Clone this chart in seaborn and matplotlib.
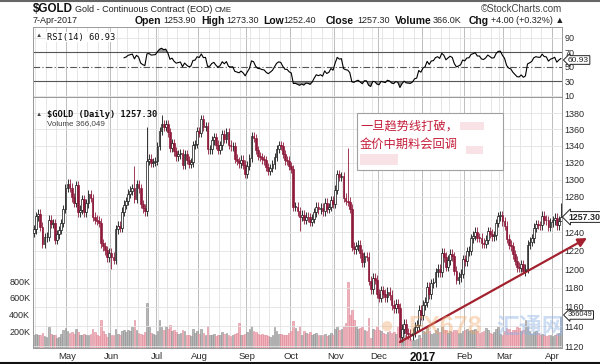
import matplotlib
matplotlib.use('Agg')
import matplotlib.pyplot as plt
import matplotlib.ticker as mticker
from matplotlib.patches import Rectangle
import seaborn as sns
import pandas as pd
import numpy as np

sns.set_theme(style='white')
plt.rcParams['font.family'] = ['Liberation Sans', 'Noto Sans CJK SC', 'DejaVu Sans']

# trading days shown (one year of daily bars)
start = '2016-04-08'
end = '2017-04-07'
holidays = ['2016-05-30', '2016-07-04', '2016-09-05', '2016-11-24',
            '2016-12-26', '2017-01-02', '2017-01-16', '2017-02-20']

# daily closes, one row per week
closes = [
    1243.4,
    1258.3, 1261.2, 1246.3, 1227.4, 1234.8,
    1235.4, 1254.2, 1249.6, 1250.1, 1231.7,
    1237.9, 1242.7, 1250.5, 1266.3, 1290.5,
    1295.4, 1290.8, 1279.8, 1273.4, 1294.0,
    1262.6, 1265.6, 1277.8, 1262.8, 1272.6,
    1283.0, 1278.8, 1257.8, 1254.2, 1252.9,
    1250.8, 1228.0, 1224.5, 1220.1, 1212.7,
    1217.3, 1213.4, 1210.0, 1243.7,
    1247.3, 1245.2, 1263.2, 1271.4, 1275.4,
    1283.9, 1287.3, 1290.2, 1278.0, 1294.6,
    1289.8, 1272.0, 1266.9, 1263.6, 1322.4,
    1324.7, 1319.8, 1320.7, 1322.1, 1339.7,
    1357.9, 1366.3, 1362.4, 1366.3,
    1356.2, 1337.9, 1343.5, 1333.3, 1327.4,
    1329.7, 1331.8, 1317.0, 1330.5, 1323.4,
    1318.4, 1320.4, 1341.3, 1342.6, 1357.5,
    1355.5, 1372.6, 1362.7, 1363.9, 1335.7,
    1335.8, 1346.5, 1350.8, 1341.6, 1335.1,
    1340.5, 1354.6, 1348.4, 1356.5, 1341.5,
    1339.4, 1340.1, 1324.7, 1322.1, 1319.1,
    1323.6, 1317.6, 1306.9, 1316.5, 1325.8,
    1351.8, 1349.2, 1335.0, 1327.7,
    1326.9, 1323.8, 1322.8, 1315.1, 1310.3,
    1313.9, 1318.0, 1326.9, 1336.5, 1340.9,
    1339.6, 1330.2, 1322.6, 1322.4, 1315.9,
    1312.7, 1268.7, 1269.1, 1263.6, 1257.4,
    1259.9, 1253.9, 1257.4, 1257.0, 1251.7,
    1255.4, 1262.5, 1268.8, 1266.0, 1267.7,
    1263.6, 1273.3, 1266.4, 1268.7, 1276.2,
    1272.2, 1288.5, 1306.9, 1303.0, 1304.5,
    1279.3, 1275.5, 1274.5, 1266.5, 1224.3,
    1221.6, 1224.6, 1226.6, 1216.9, 1207.2,
    1213.9, 1213.4, 1187.5, 1178.4,
    1190.3, 1188.5, 1173.9, 1169.6, 1177.3,
    1173.9, 1170.4, 1175.4, 1172.2, 1161.7,
    1158.9, 1162.7, 1159.0, 1129.4, 1137.4,
    1142.6, 1133.6, 1132.4, 1131.0, 1133.6,
    1139.6, 1140.9, 1157.1, 1151.7,
    1162.0, 1165.3, 1181.3, 1173.4,
    1184.8, 1185.9, 1196.6, 1200.3, 1196.6,
    1217.6, 1213.1, 1202.4, 1209.7,
    1216.4, 1213.6, 1198.2, 1188.7, 1191.4,
    1195.0, 1210.7, 1208.7, 1219.0, 1219.9,
    1233.3, 1236.5, 1241.0, 1234.3, 1234.2,
    1228.3, 1227.3, 1232.1, 1241.4, 1238.6,
    1236.0, 1236.9, 1250.5, 1258.3,
    1259.3, 1252.6, 1247.5, 1233.1, 1226.5,
    1224.5, 1215.8, 1209.1, 1202.3, 1201.4,
    1205.0, 1198.0, 1200.2, 1226.6, 1229.8,
    1233.7, 1245.3, 1249.3, 1248.3, 1248.0,
    1258.5, 1254.3, 1253.7, 1246.2, 1251.2,
    1253.5, 1256.4, 1248.1, 1253.3, 1257.3,
]

# daily volume in thousands of contracts, same rows as closes
volumes_k = [
    150,
    170, 160, 150, 180, 140,
    130, 255, 170, 160, 150,
    120, 130, 170, 220, 240,
    200, 180, 190, 170, 230,
    190, 150, 160, 170, 150,
    160, 170, 230, 190, 160,
    140, 330, 200, 170, 130,
    180, 150, 160, 230,
    170, 160, 200, 210, 190,
    220, 200, 250, 330, 210,
    180, 170, 160, 190, 540,
    250, 180, 170, 150, 200,
    330, 250, 220, 260,
    230, 270, 200, 210, 190,
    170, 180, 220, 200, 160,
    150, 140, 230, 180, 200,
    170, 230, 180, 150, 260,
    150, 160, 170, 140, 150,
    150, 190, 170, 180, 150,
    140, 150, 170, 180, 300,
    160, 150, 170, 190, 230,
    264, 200, 190, 170,
    160, 170, 150, 160, 140,
    130, 150, 250, 200, 170,
    170, 160, 150, 160, 180,
    200, 324, 240, 200, 264,
    150, 200, 180, 170, 190,
    160, 170, 180, 150, 160,
    150, 170, 140, 150, 180,
    160, 230, 250, 210, 230,
    260, 300, 790, 400, 450,
    330, 260, 230, 240, 250,
    220, 200, 360, 120,
    230, 220, 260, 210, 200,
    180, 170, 190, 200, 180,
    190, 170, 260, 300, 200,
    150, 140, 120, 110, 90,
    100, 110, 150, 120,
    200, 190, 250, 200,
    170, 180, 220, 240, 190,
    260, 220, 210, 180,
    200, 190, 220, 210, 180,
    180, 200, 220, 230, 200,
    210, 220, 230, 200, 180,
    190, 200, 240, 220, 180,
    170, 190, 230, 250,
    170, 150, 200, 240, 230,
    190, 210, 220, 250, 240,
    200, 210, 330, 260, 200,
    170, 190, 200, 180, 160,
    170, 150, 140, 160, 150,
    140, 160, 170, 180, 366,
]

first_open = 1239.8
wick = 5.0
spike_highs = {'2016-06-16': 1315.5, '2016-06-24': 1362.6, '2016-07-06': 1377.5,
               '2016-11-09': 1337.4, '2017-04-07': 1273.3}
spike_lows = {'2016-06-01': 1199.6, '2016-10-07': 1241.3, '2016-12-15': 1124.3,
              '2017-03-14': 1195.5, '2017-04-07': 1252.4}
rsi_start = '2016-06-09'
rsi_last = 60.93

price_ticks = [1120, 1140, 1160, 1180, 1200, 1220, 1240, 1260, 1280,
               1300, 1320, 1340, 1360, 1380]
price_hidden = [1260]  # covered by the last-price tag
rsi_ticks = [10, 30, 50, 70, 90]
vol_ticks = [200000, 400000, 600000, 800000]
vol_labels = ['200K', '400K', '600K', '800K']
month_labels = ['May', 'Jun', 'Jul', 'Aug', 'Sep', 'Oct', 'Nov', 'Dec',
                '2017', 'Feb', 'Mar', 'Apr']

header_fields = [('Open', '1253.90', 135, 163), ('High', '1273.30', 201, 226),
                 ('Low', '1252.40', 263, 283), ('Close', '1257.30', 326, 357),
                 ('Volume', '366.0K', 395, 433), ('Chg', '+4.00 (+0.32%) \u25b2', 469, 491)]

# ---- data frame
dates = pd.bdate_range(start, end).drop(pd.to_datetime(holidays))
assert len(dates) == len(closes) == len(volumes_k)
df = pd.DataFrame({'close': closes, 'volume': np.array(volumes_k) * 1000}, index=dates)
df['idx'] = np.arange(len(df))
df['open'] = df['close'].shift(1).fillna(first_open)
df['high'] = df[['open', 'close']].max(axis=1) + wick
df['low'] = df[['open', 'close']].min(axis=1) - wick
for d, v in spike_highs.items():
    df.loc[d, 'high'] = v
for d, v in spike_lows.items():
    df.loc[d, 'low'] = v
df['up'] = df['close'] >= df['close'].shift(1).fillna(first_open)

delta = df['close'].diff()
gain = delta.clip(lower=0).ewm(alpha=1 / 14, adjust=False).mean()
loss = (-delta.clip(upper=0)).ewm(alpha=1 / 14, adjust=False).mean()
df['rsi'] = 100 - 100 / (1 + gain / loss)
df.loc[df.index < rsi_start, 'rsi'] = np.nan

n = len(df)
x = df['idx'].values
month_first = df.groupby([df.index.year, df.index.month])['idx'].first().values[1:]
week_first = df.groupby(df.index.to_period('W'))['idx'].first().values

W, H = 600, 364
fig = plt.figure(figsize=(6, 3.64), dpi=100)
fig.patch.set_facecolor('white')
ax_rsi = fig.add_axes([33 / W, 267 / H, 529 / W, 70 / H])
ax_vol = fig.add_axes([33 / W, 16 / H, 529 / W, 251 / H])
ax_p = ax_vol.twinx()

spine_c = '#9a9a9a'
for a in (ax_rsi, ax_vol, ax_p):
    a.set_xlim(-0.5, n - 0.5)
    for s in a.spines.values():
        s.set_color(spine_c)
        s.set_linewidth(0.7)
    a.tick_params(length=0, pad=2, labelsize=6.5, colors='#2a2a2a')

# vertical grid
for a in (ax_rsi, ax_vol):
    for w in week_first:
        a.axvline(w - 0.5, color='#e2e2e2', lw=0.6, zorder=0)
    for m in month_first:
        a.axvline(m - 0.5, color='#bdbdbd', lw=0.7, zorder=0)

# ---- RSI panel
ax_rsi.set_ylim(8, 105)
for lvl in (10, 90):
    ax_rsi.axhline(lvl, color='#e2e2e2', lw=0.6, zorder=0)
ax_rsi.axhline(70, color='#555555', lw=0.8)
ax_rsi.axhline(30, color='#555555', lw=0.8)
ax_rsi.axhline(50, color='#555555', lw=0.8, ls=(0, (6, 2, 1, 2)))
r = df['rsi'].values
ax_rsi.fill_between(x, r, 30, where=r < 30, color='#9a9a9a', interpolate=True, lw=0)
ax_rsi.fill_between(x, r, 70, where=r > 70, color='#9a9a9a', interpolate=True, lw=0)
sns.lineplot(x=x, y=r, ax=ax_rsi, color='black', lw=0.8)
ax_rsi.yaxis.tick_right()
ax_rsi.set_yticks(rsi_ticks)
ax_rsi.set_xticks([])
ax_rsi.text(0.026, 0.92, 'RSI(14) %.2f' % rsi_last, transform=ax_rsi.transAxes,
            family='DejaVu Sans Mono', fontsize=6.3, va='top', color='#111111',
            bbox=dict(fc='white', ec='none', pad=0.5))
ax_rsi.text(0.006, 0.92, '\u25b2', transform=ax_rsi.transAxes, fontsize=4.5,
            va='top', color='#444444')

# ---- volume (left axis, behind price)
vcol = np.where(df['up'], '#b8b8b8', '#f3b3bd')
vedge = np.where(df['up'], '#8e8e8e', '#dc8998')
ax_vol.bar(x, df['volume'], width=0.85, color=vcol, edgecolor=vedge, linewidth=0.4, zorder=2)
ax_vol.set_ylim(0, 3.0e6)
ax_vol.set_yticks(vol_ticks)
ax_vol.set_yticklabels(vol_labels)
ax_vol.yaxis.tick_left()
ax_vol.set_xticks(month_first)
ax_vol.set_xticklabels(month_labels)
for lab in ax_vol.get_xticklabels():
    lab.set_fontsize(6.8)
    if lab.get_text() == '2017':
        lab.set_fontweight('bold')
        lab.set_fontsize(8.5)
        lab.set_color('#111111')
ax_vol.tick_params(axis='x', pad=3)

# ---- price candles
ax_p.set_yscale('log')
ax_p.set_ylim(1118, 1400)
ax_p.yaxis.set_major_locator(mticker.FixedLocator(price_ticks))
ax_p.yaxis.set_major_formatter(mticker.FixedFormatter(
    ['' if t in price_hidden else str(t) for t in price_ticks]))
ax_p.yaxis.set_minor_locator(mticker.NullLocator())
ax_p.tick_params(axis='y', length=0, pad=2, labelsize=6.5, colors='#2a2a2a')
for t in price_ticks:
    ax_p.axhline(t, color='#e2e2e2', lw=0.6, zorder=0)

up = df['close'] >= df['open']
body_lo = df[['open', 'close']].min(axis=1)
body_h = (df['close'] - df['open']).abs().clip(lower=0.6)
edge = np.where(up, '#111111', '#8e1b3c')
face = np.where(up, 'white', '#8e1b3c')
ax_p.vlines(x, df['low'], df['high'], color=edge, lw=0.6, zorder=3)
ax_p.bar(x, body_h, bottom=body_lo, width=0.8, color=face, edgecolor=edge,
         linewidth=0.5, zorder=4)

ax_p.text(0.026, 0.93, '$GOLD (Daily) 1257.30', transform=ax_p.transAxes,
          family='DejaVu Sans Mono', fontweight='bold', fontsize=6.3, va='center',
          color='#111111')
ax_p.text(0.006, 0.93, '\u25b2', transform=ax_p.transAxes, fontsize=4.5,
          va='center', color='#444444')
ax_p.text(0.026, 0.895, 'Volume 366,049', transform=ax_p.transAxes,
          fontsize=5.8, va='center', color='#444444')

# trend line arrow from the December low out past the right axis
low_day = df.loc['2016-12-15', 'idx']
ax_p.annotate('', xy=(587 / W, 1 - 238 / H), xycoords='figure fraction',
              xytext=(low_day, 1124), textcoords='data', annotation_clip=False,
              arrowprops=dict(arrowstyle='-|>', color='#a3202e', lw=1.6,
                              mutation_scale=13, shrinkA=0, shrinkB=0))

# ---- header
def px(xp, yp):
    return xp / W, 1 - yp / H

fig.add_artist(plt.Line2D([0, 1], [1 - 0.8 / H] * 2, color='#666666', lw=1.5))
fig.add_artist(plt.Line2D([0, 1], [1.5 / H] * 2, color='#111111', lw=1.5))
fig.text(*px(33, 9), '$GOLD', fontsize=8.4, fontweight='bold', va='center', color='#111111')
fig.text(*px(75, 9.5), 'Gold - Continuous Contract (EOD)', fontsize=6.5, va='center', color='#222222')
fig.text(*px(215, 10), 'CME', fontsize=5.6, va='center', color='#222222')
fig.text(*px(562, 9), '\u00a9StockCharts.com', fontsize=7, va='center', ha='right', color='#444444')
fig.text(*px(33, 20.5), '7-Apr-2017', fontsize=6.5, va='center', color='#222222')
for name, val, xn, xv in header_fields:
    fig.text(*px(xn, 20.5), name, fontsize=7.5, fontweight='bold', va='center', color='#111111')
    fig.text(*px(xv, 20.5), val, fontsize=6.5, va='center', color='#222222')

# right side value tags
tag = dict(boxstyle='larrow,pad=0.1', fc='white', ec='#222222', lw=0.7)
fig.text(*px(568, 217), '1257.30', fontsize=6.4, fontweight='bold', va='center', bbox=tag)
fig.text(*px(568, 60), '60.93', fontsize=6.0, va='center', bbox=tag)
fig.text(*px(568, 315), '366049', fontsize=5.3, va='center', bbox=tag)

# annotation box
fig.add_artist(Rectangle(px(357, 170), 146 / W, 57 / H, transform=fig.transFigure,
                         fc='white', ec='#a0a0a0', lw=0.8, zorder=5))
for (x0, y0, w0, h0) in [(460, 122, 24, 8), (466, 146, 17, 8), (360, 154, 38, 11)]:
    fig.add_artist(Rectangle(px(x0, y0 + h0), w0 / W, h0 / H, transform=fig.transFigure,
                             fc='#f9e2e6', ec='none', zorder=5.5))
fig.text(*px(360, 126), '一旦趋势线打破，', fontsize=8.8, color='#c41f3b',
         va='center', family=['Noto Sans CJK SC', 'DejaVu Sans'], zorder=6)
fig.text(*px(360, 144), '金价中期料会回调', fontsize=8.8, color='#c41f3b',
         va='center', family=['Noto Sans CJK SC', 'DejaVu Sans'], zorder=6)

# faint watermark
fig.text(*px(380, 327), '\u25cf', fontsize=17, color='#f0b27a', alpha=0.45, va='center')
fig.text(*px(408, 327), 'FX678', fontsize=18, fontweight='bold', color='#f0a868',
         alpha=0.4, va='center')
fig.text(*px(496, 327), '汇通网', fontsize=16.5, fontweight='bold', color='#8fb3e6',
         alpha=0.45, va='center', family=['Noto Sans CJK SC', 'DejaVu Sans'])

fig.savefig('out.png', dpi=100, facecolor='white')
